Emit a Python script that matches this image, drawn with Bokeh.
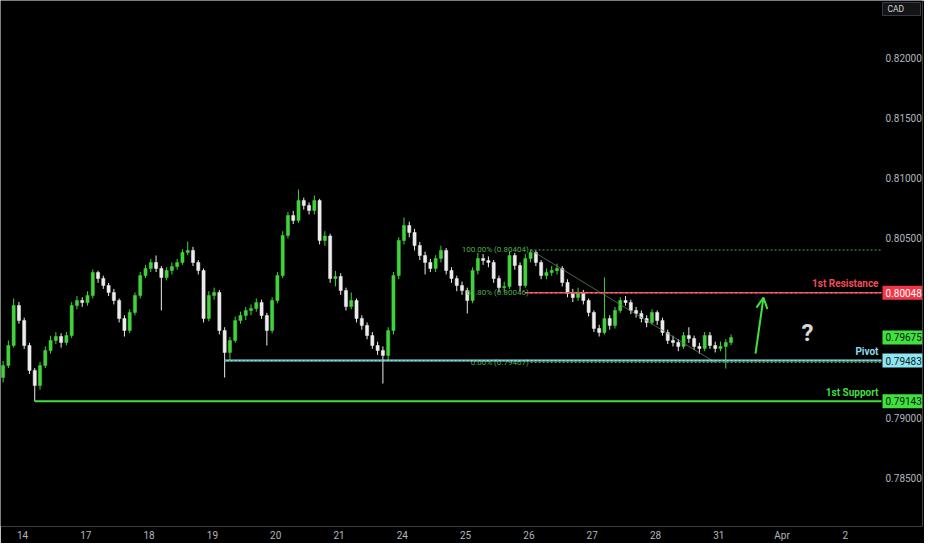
import numpy as np
from bokeh.plotting import figure
from bokeh.models import (Range1d, FixedTicker, PrintfTickFormatter, Arrow,
                          OpenHead, ColumnDataSource)
from bokeh.embed import file_html
from bokeh.resources import INLINE
from bokeh.core.properties import value

# ---------------- data (2-hour candles) ----------------
first_open = 0.79341
closes = [
    0.79441, 0.79608, 0.79941, 0.79816, 0.79608, 0.79400, 0.79275, 0.79441, 0.79566, 0.79650,
    0.79683, 0.79633, 0.79691, 0.79941, 0.79983, 0.79966, 0.80025, 0.80216, 0.80166, 0.80108,
    0.80050, 0.79983, 0.79833, 0.79733, 0.79883, 0.80025, 0.80191, 0.80250, 0.80300, 0.80250,
    0.80175, 0.80233, 0.80266, 0.80300, 0.80383, 0.80400, 0.80300, 0.80233, 0.79833, 0.80025,
    0.80050, 0.79733, 0.79550, 0.79650, 0.79816, 0.79858, 0.79900, 0.79916, 0.79966, 0.79858,
    0.79733, 0.79983, 0.80191, 0.80525, 0.80691, 0.80650, 0.80816, 0.80775, 0.80733, 0.80816,
    0.80483, 0.80520, 0.80166, 0.80183, 0.80066, 0.79933, 0.79983, 0.79833, 0.79775, 0.79691,
    0.79608, 0.79566, 0.79525, 0.79733, 0.80191, 0.80483, 0.80608, 0.80550, 0.80441, 0.80358,
    0.80300, 0.80250, 0.80333, 0.80400, 0.80233, 0.80166, 0.80108, 0.80066, 0.79983, 0.80233,
    0.80333, 0.80316, 0.80300, 0.80166, 0.80091, 0.80100, 0.80358, 0.80275, 0.80108, 0.80333,
    0.80383, 0.80300, 0.80191, 0.80216, 0.80233, 0.80250, 0.80133, 0.80041, 0.80008, 0.80050,
    0.79983, 0.79883, 0.79750, 0.79716, 0.79833, 0.79775, 0.79900, 0.79983, 0.79966, 0.79900,
    0.79875, 0.79833, 0.79800, 0.79883, 0.79816, 0.79716, 0.79650, 0.79633, 0.79600, 0.79691,
    0.79666, 0.79600, 0.79583, 0.79691, 0.79608, 0.79583, 0.79600, 0.79633, 0.79675]
highs = [
    0.79480, 0.79650, 0.80000, 0.79970, 0.79840, 0.79630, 0.79420, 0.79470, 0.79600, 0.79690,
    0.79720, 0.79710, 0.79720, 0.79970, 0.80020, 0.80010, 0.80060, 0.80241, 0.80230, 0.80190,
    0.80130, 0.80080, 0.80000, 0.79860, 0.79910, 0.80050, 0.80220, 0.80280, 0.80330, 0.80358,
    0.80270, 0.80260, 0.80300, 0.80330, 0.80410, 0.80475, 0.80430, 0.80320, 0.80250, 0.80060,
    0.80090, 0.80070, 0.79760, 0.79680, 0.79850, 0.79890, 0.79930, 0.79950, 0.80000, 0.79990,
    0.79880, 0.80010, 0.80220, 0.80560, 0.80720, 0.80730, 0.80908, 0.80840, 0.80800, 0.80858,
    0.80830, 0.80560, 0.80540, 0.80230, 0.80210, 0.80090, 0.80050, 0.80000, 0.79860, 0.79800,
    0.79720, 0.79640, 0.79600, 0.79760, 0.80220, 0.80510, 0.80675, 0.80640, 0.80580, 0.80470,
    0.80390, 0.80330, 0.80360, 0.80440, 0.80420, 0.80260, 0.80190, 0.80140, 0.80090, 0.80260,
    0.80380, 0.80370, 0.80350, 0.80320, 0.80190, 0.80140, 0.80390, 0.80380, 0.80300, 0.80370,
    0.80408, 0.80400, 0.80320, 0.80250, 0.80270, 0.80290, 0.80270, 0.80160, 0.80080, 0.80090,
    0.80070, 0.80000, 0.79900, 0.79780, 0.80175, 0.79860, 0.79930, 0.80010, 0.80020, 0.79990,
    0.79930, 0.79900, 0.79860, 0.79910, 0.79900, 0.79840, 0.79740, 0.79690, 0.79660, 0.79720,
    0.79760, 0.79690, 0.79630, 0.79720, 0.79720, 0.79640, 0.79640, 0.79660, 0.79700]
lows = [
    0.79300, 0.79420, 0.79590, 0.79790, 0.79580, 0.79370, 0.79143, 0.79240, 0.79420, 0.79540,
    0.79620, 0.79590, 0.79610, 0.79670, 0.79910, 0.79930, 0.79940, 0.80000, 0.80130, 0.80080,
    0.80020, 0.79950, 0.79800, 0.79683, 0.79710, 0.79860, 0.80000, 0.80170, 0.80220, 0.80220,
    0.79900, 0.80150, 0.80200, 0.80240, 0.80280, 0.80360, 0.80270, 0.80200, 0.79800, 0.79810,
    0.79990, 0.79700, 0.79341, 0.79483, 0.79630, 0.79790, 0.79820, 0.79860, 0.79890, 0.79830,
    0.79608, 0.79710, 0.79960, 0.80170, 0.80500, 0.80620, 0.80630, 0.80740, 0.80700, 0.80700,
    0.80450, 0.80440, 0.80130, 0.80100, 0.80030, 0.79900, 0.79910, 0.79800, 0.79740, 0.79660,
    0.79580, 0.79530, 0.79291, 0.79480, 0.79700, 0.80160, 0.80450, 0.80510, 0.80400, 0.80320,
    0.80200, 0.80220, 0.80220, 0.80300, 0.80200, 0.80130, 0.80060, 0.80030, 0.79875, 0.79960,
    0.80200, 0.80280, 0.80260, 0.80130, 0.80050, 0.80050, 0.80080, 0.80240, 0.80060, 0.80090,
    0.80300, 0.80270, 0.80160, 0.80160, 0.80190, 0.80200, 0.80100, 0.80010, 0.79970, 0.79980,
    0.79950, 0.79850, 0.79720, 0.79683, 0.79700, 0.79740, 0.79750, 0.79880, 0.79940, 0.79870,
    0.79840, 0.79800, 0.79760, 0.79780, 0.79780, 0.79690, 0.79620, 0.79600, 0.79560, 0.79580,
    0.79630, 0.79570, 0.79540, 0.79560, 0.79580, 0.79550, 0.79560, 0.79416, 0.79610]

day_labels = ["14", "17", "18", "19", "20", "21", "24", "25", "26", "27", "28", "31", "Apr", "2"]
# price scale labels that stay visible (0.79500 / 0.80000 sit under the level boxes)
price_ticks = [0.785, 0.790, 0.805, 0.810, 0.815, 0.820]

resistance = 0.80048
pivot = 0.79483
support = 0.79143
last_price = 0.79675
fib_levels = [1.0, 0.618, 0.0]
fib_high = 0.80404
fib_low = 0.79467
fib_texts = ["100.00% (0.80404)", "61.80% (0.80046)", "0.00% (0.79467)"]

# ---------------- derived ----------------
n = len(closes)
opens = [first_open] + closes[:-1]
start_day = -0.3065          # first candle position in trading-day units
t = start_day + np.arange(n) * (2.0 / 24.0)
UP, DOWN = "#42d33c", "#ececec"
colors = [UP if c >= o else DOWN for o, c in zip(opens, closes)]
src = ColumnDataSource(dict(t=t, h=highs, l=lows,
                            top=[max(a, b) for a, b in zip(opens, closes)],
                            bot=[min(a, b) for a, b in zip(opens, closes)],
                            col=colors))

PX_DAY = 63.3            # pixels per trading day
PX_PRICE = 12000.0       # pixels per 1.0 of price
X0, X1 = -22 / PX_DAY, 900 / PX_DAY
Y1 = 0.82483
Y0 = Y1 - 526 / PX_PRICE

p = figure(frame_width=922, frame_height=526, output_backend="svg", toolbar_location=None,
           x_range=Range1d(X0, X1), y_range=Range1d(Y0, Y1), y_axis_location="right",
           min_border_left=0, min_border_top=0, min_border_right=0, min_border_bottom=0)
p.background_fill_color = "#000000"
p.border_fill_color = "#000000"
p.outline_line_color = None
p.grid.visible = False

FONT = "Roboto"
for ax in (p.xaxis[0], p.yaxis[0]):
    ax.axis_line_color = None
    ax.major_tick_line_color = None
    ax.minor_tick_line_color = None
    ax.major_tick_out = 0
    ax.major_tick_in = 0
    ax.minor_tick_out = 0
    ax.minor_tick_in = 0
    ax.major_label_text_color = "#b2b5be"
    ax.major_label_text_font = FONT
    ax.major_label_text_font_size = "10px"
p.yaxis[0].ticker = FixedTicker(ticks=price_ticks)
p.yaxis[0].formatter = PrintfTickFormatter(format="%.5f")
p.yaxis[0].major_label_standoff = -37
p.xaxis[0].ticker = FixedTicker(ticks=list(range(len(day_labels))))
p.xaxis[0].major_label_overrides = {i: s for i, s in enumerate(day_labels)}
p.xaxis[0].major_label_standoff = 3

# candles
p.segment(x0="t", y0="h", x1="t", y1="l", color="col", line_width=1, source=src)
p.vbar(x="t", width=0.6 / 12, top="top", bottom="bot", fill_color="col",
       line_color="col", line_width=0.5, source=src)

line_end = 859 / PX_DAY      # right end of drawn levels (just left of price scale)

# fib
fib_start = t[100]
fib_end_x = t[135]
fib_color = "#4caf50"
for lvl, txt in zip(fib_levels, fib_texts):
    yv = fib_low + (fib_high - fib_low) * lvl
    p.segment(x0=[fib_start], y0=[yv], x1=[line_end], y1=[yv], line_color=fib_color,
              line_width=1, line_dash="2 2")
    p.text(x=[fib_start - 0.03], y=[yv], text=[txt], text_color=fib_color,
           text_font=value(FONT), text_font_size="8px", text_align="right",
           text_baseline="middle")
p.segment(x0=[fib_start], y0=[fib_high], x1=[fib_end_x], y1=[fib_low],
          line_color="#5f7d5a", line_width=1, line_alpha=0.8)

# horizontal levels
p.segment(x0=[t[99]], y0=[resistance], x1=[line_end], y1=[resistance], line_color="#f0424f",
          line_width=1.5)
p.segment(x0=[t[99]], y0=[resistance], x1=[line_end], y1=[resistance], line_color="#ffb0b0",
          line_width=1, line_dash="2 3", line_alpha=0.6)
p.segment(x0=[t[42]], y0=[pivot], x1=[line_end], y1=[pivot], line_color="#8fe3f0", line_width=2)
p.segment(x0=[t[42]], y0=[pivot], x1=[line_end], y1=[pivot], line_color="#3a9a5a",
          line_width=1, line_dash="2 2", line_alpha=0.7)
p.segment(x0=[t[6]], y0=[support], x1=[line_end], y1=[support], line_color="#3fe03f", line_width=2)

lab_x = 856 / PX_DAY
off = 9 / PX_PRICE
for yv, txt, col in [(resistance, "1st Resistance", "#f24a55"),
                     (pivot, "Pivot", "#8fdcec"),
                     (support, "1st Support", "#45dd45")]:
    p.text(x=[lab_x], y=[yv + off], text=[txt], text_color=col, text_font=value(FONT),
           text_font_size="10px", text_font_style="bold", text_align="right",
           text_baseline="middle")

# arrow and question mark
p.add_layout(Arrow(end=OpenHead(line_color="#3fe03f", line_width=2, size=11),
                   x_start=11.58, y_start=0.79541, x_end=11.706, y_end=0.80008,
                   line_color="#3fe03f", line_width=2))
p.text(x=[12.40], y=[0.79716], text=["?"], text_color="#d8d8d8", text_font=value(FONT),
       text_font_size="24px", text_font_style="bold", text_align="center",
       text_baseline="middle")

# price boxes on the price scale
box_cx = 880 / PX_DAY
box_w = 40 / PX_DAY
box_h = 14 / PX_PRICE
text_x = 863 / PX_DAY
for yv, bg, fg in [(resistance, "#f23645", "#ffffff"),
                   (last_price, "#3fe03f", "#0a1a0a"),
                   (pivot, "#8ee6f2", "#0f1f22"),
                   (support, "#3fe03f", "#0a1a0a")]:
    p.rect(x=[box_cx], y=[yv], width=[box_w], height=[box_h], fill_color=bg, line_color=None)
    p.text(x=[text_x], y=[yv], text=[f"{yv:.5f}"], text_color=fg, text_font=value(FONT),
           text_font_size="10px", text_align="left", text_baseline="middle")

# currency box
p.rect(x=[box_cx - 1 / PX_DAY], y=[Y1 - 8.5 / PX_PRICE], width=[38 / PX_DAY],
       height=[13 / PX_PRICE], fill_color="#141414", line_color="#363a45", line_width=1)
p.text(x=[865 / PX_DAY], y=[Y1 - 8.5 / PX_PRICE], text=["CAD"], text_color="#d1d4dc",
       text_font=value(FONT), text_font_size="8.5px", text_align="left",
       text_baseline="middle")

open("out.html", "w").write(file_html(p, INLINE))
